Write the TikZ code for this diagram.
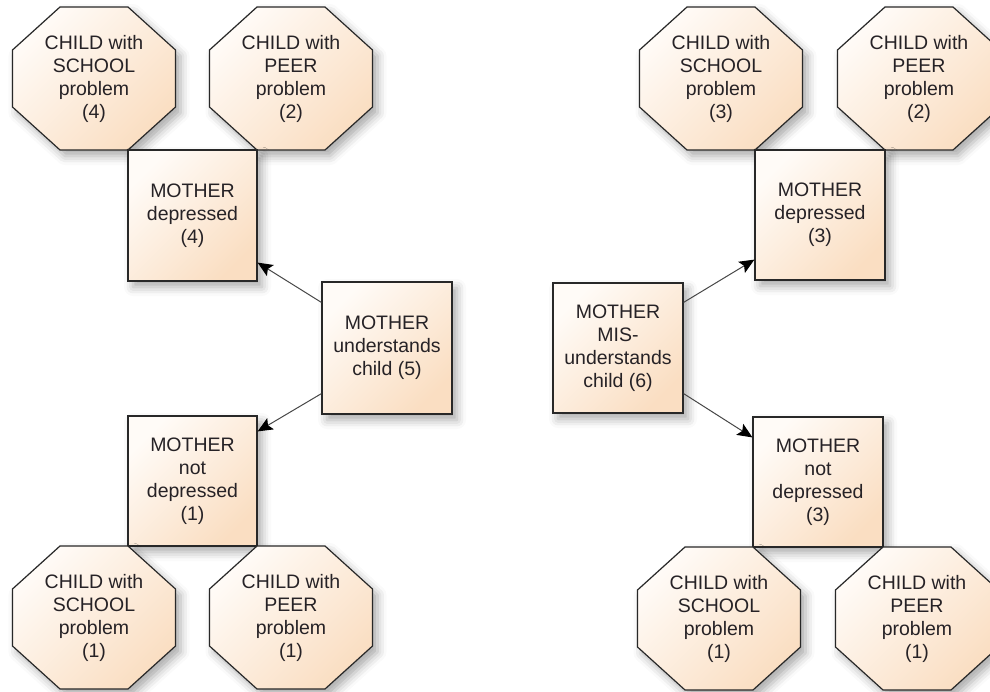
\documentclass[tikz,border=0pt]{standalone}
\usepackage{fontspec}
\setmainfont{Liberation Sans}
\usetikzlibrary{arrows.meta,shadows.blur}
\definecolor{lightfill}{RGB}{255,251,247}
\definecolor{peachfill}{RGB}{250,222,194}
\definecolor{edgecol}{RGB}{40,40,40}
\definecolor{txtcol}{RGB}{38,34,38}
\tikzset{
  shaded fill/.style={top color=lightfill, bottom color=peachfill, shading angle=45},
  soft shadow/.style={blur shadow={shadow xshift=5pt, shadow yshift=-6pt, shadow blur radius=9pt, shadow opacity=34}},
  octo/.style={draw=edgecol, line width=1.2pt, shaded fill, soft shadow},
  lbl/.style={align=center, text=txtcol, font=\fontsize{19.5}{23}\selectfont, inner sep=0pt},
  mbox/.style={draw=edgecol, line width=1.2pt, shaded fill, soft shadow, lbl,
     minimum width=130pt, minimum height=131pt, inner sep=0pt},
  arr/.style={draw=black!72, line width=1pt, -{Stealth[length=15pt,width=13pt,inset=3pt,color=black]}}
}
% #1 name, #2 left, #3 top, #4 text
\newcommand\octagonnode[4]{%
  \path[octo] (#2+47.5,#3) -- (#2+115.5,#3) -- (#2+163,#3+43) -- (#2+163,#3+100)
     -- (#2+115.5,#3+143) -- (#2+47.5,#3+143) -- (#2,#3+100) -- (#2,#3+43) -- cycle;
  \node[lbl] (#1) at (#2+81.5,#3+71.5) {#4};
}
\begin{document}
\begin{tikzpicture}[x=1pt,y=-1pt]
\useasboundingbox (0,0) rectangle (990,691);
% ---------- left tree ----------
\octagonnode{ls4}{12.5}{7}{CHILD with\\SCHOOL\\problem\\(4)}
\octagonnode{lp2}{209.5}{7}{CHILD with\\PEER\\problem\\(2)}
\node[mbox, minimum width=129pt] (ld) at (192.5,215.5) {MOTHER\\depressed\\(4)};
\node[mbox, minimum height=132pt] (lu) at (387,348) {MOTHER\\understands\\child (5)};
\node[mbox, minimum width=129pt, minimum height=130pt] (ln) at (192.5,481) {MOTHER\\not\\depressed\\(1)};
\octagonnode{ls1}{12.5}{546}{CHILD with\\SCHOOL\\problem\\(1)}
\octagonnode{lp1}{209.5}{546}{CHILD with\\PEER\\problem\\(1)}
\draw[arr] ([yshift=-21pt]lu.north west) -- ([yshift=19pt]ld.south east);
\draw[arr] ([yshift=21pt]lu.south west) -- ([yshift=-16pt]ln.north east);
% ---------- right tree ----------
\octagonnode{rs3}{639.5}{7}{CHILD with\\SCHOOL\\problem\\(3)}
\octagonnode{rp2}{837.5}{7}{CHILD with\\PEER\\problem\\(2)}
\node[mbox, minimum height=130pt] (rd) at (820,215) {MOTHER\\depressed\\(3)};
\node[mbox, minimum height=130pt] (rm) at (618,348) {MOTHER\\MIS-\\understands\\child (6)};
\node[mbox, minimum height=130pt] (rn) at (818,482) {MOTHER\\not\\depressed\\(3)};
\octagonnode{rs1}{637.5}{547}{CHILD with\\SCHOOL\\problem\\(1)}
\octagonnode{rp1}{835.5}{547}{CHILD with\\PEER\\problem\\(1)}
\draw[arr] ([yshift=-20pt]rm.north east) -- ([yshift=21pt]rd.south west);
\draw[arr] ([yshift=20pt]rm.south east) -- ([yshift=-21pt]rn.north west);
\end{tikzpicture}
\end{document}
